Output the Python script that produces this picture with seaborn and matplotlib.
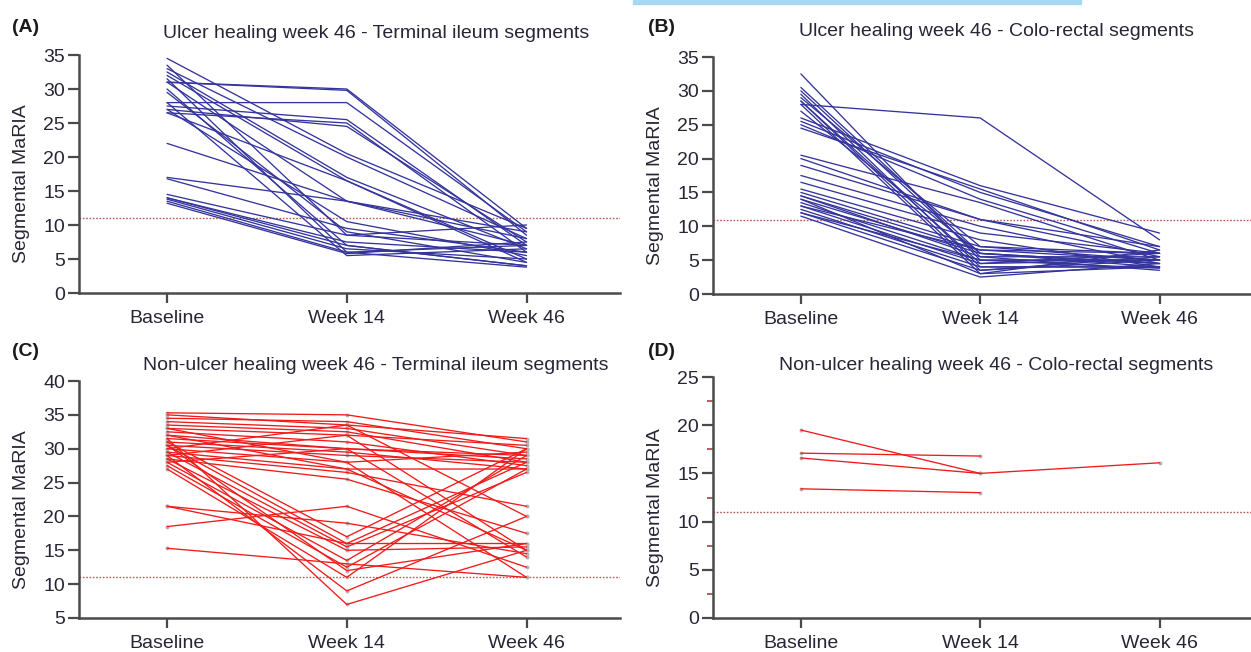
import numpy as np
import pandas as pd
import matplotlib
matplotlib.use("Agg")
import matplotlib.pyplot as plt
from matplotlib.patches import Rectangle
from matplotlib.ticker import MultipleLocator, FixedLocator
import seaborn as sns

sns.set_theme(style="white")
plt.rcParams["font.family"] = ["Liberation Sans", "DejaVu Sans"]

timepoints = ["Baseline", "Week 14", "Week 46"]
ref_line = 11

# (A) Ulcer healing week 46 - Terminal ileum segments
a_baseline = [31, 31, 28, 27.5, 26.5, 27, 34.5, 33, 32.5, 32, 30, 31.5, 29.5, 27,
              22, 17, 16.8, 14.5, 14, 14, 13.8, 13.5, 13.2, 33.5, 28, 26.5, 31]
a_week14 = [30, 29.8, 28, 25.5, 25, 24.5, 20.5, 20, 17, 16.5, 7, 6, 9, 10.5,
            13.5, 13.5, 9.5, 8.5, 7.5, 7, 6.5, 6, 5.8, 8.5, 5.5, 16.5, 13.5]
a_week46 = [9.5, 8.5, 9, 7, 6, 7.5, 9.5, 8, 6.5, 5, 4, 7, 4.5, 5.5,
            7, 8, 6, 7, 6, 4, 5, 3.8, 7.5, 10, 6.5, 4.5, 9]

# (B) Ulcer healing week 46 - Colo-rectal segments
b_baseline = [28, 32.5, 30.5, 30, 29.5, 29, 28.5, 28, 26, 25.5, 25, 24.5, 20.5, 20,
              19, 17.5, 16.5, 15.5, 15, 14.5, 14.5, 14, 13.5, 13, 12.5, 12, 11.5,
              13, 14, 12, 28.5, 27]
b_week14 = [26, 5, 6, 5.5, 4, 7, 4.5, 3, 16, 15, 14, 15.5, 13.5, 11,
            11, 10, 9, 8, 7, 6.5, 5.5, 6, 5, 4.5, 4, 3.5, 2.5,
            6.5, 3, 5, 3.5, 6]
b_week46 = [8, 5, 4.5, 5.5, 4, 6, 5, 4, 9, 7, 6, 6.5, 5, 5.5,
            7, 4.5, 6, 4, 5, 6, 3.5, 4.5, 5, 6, 4, 5.5, 4.5,
            5, 6.5, 3.8, 5, 4]

# (C) Non-ulcer healing week 46 - Terminal ileum segments
c_baseline = [35.3, 35, 34.5, 34, 33.5, 33, 32.5, 32, 31.5, 31, 30.5, 30, 29.5, 29,
              28.5, 30, 29, 28, 31, 30.5, 29.5, 28.5, 28, 27.5, 27, 29, 31.5,
              21.5, 18.5, 15.3, 21.5, 33, 32, 30.5]
c_week14 = [35, 33.5, 34, 33, 32.5, 32, 31, 30, 30, 29.5, 29, 28, 27, 26.5,
            25.5, 33.5, 32, 30, 17, 16, 15.5, 15, 13.5, 12.5, 11, 9, 7,
            16, 21.5, 13, 19, 28, 27, 12]
c_week46 = [31, 31.5, 30, 29, 28, 30.5, 27.5, 29, 28.5, 27, 28, 29.5, 27, 21.5,
            17.5, 20, 15, 14, 30, 28, 26.5, 15.5, 29, 27, 30, 20, 15,
            16, 12.5, 11, 14.5, 11, 15, 16]

# (D) Non-ulcer healing week 46 - Colo-rectal segments
d_baseline = [19.5, 17.1, 16.6, 13.4]
d_week14 = [15.0, 16.8, 15.0, 13.0]
d_week46 = [16.1, np.nan, np.nan, np.nan]


def to_long(b, w14, w46):
    df = pd.DataFrame({"id": range(len(b)), timepoints[0]: b,
                       timepoints[1]: w14, timepoints[2]: w46})
    df = df.melt(id_vars="id", var_name="time", value_name="MaRIA")
    df["pos"] = df["time"].map({t: i for i, t in enumerate(timepoints)})
    return df


W, H = 1251, 652
fig = plt.figure(figsize=(W / 100, H / 100), dpi=100)


def px_axes(x0, x1, ytop, ybot):
    return fig.add_axes([x0 / W, 1 - ybot / H, (x1 - x0) / W, (ybot - ytop) / H])


BLUE = "#34349c"
RED = "#f01a1a"
TXT = "#262636"
SPINE = "#4a4a4a"
FS = 14

panels = [
    dict(df=to_long(a_baseline, a_week14, a_week46), color=BLUE, box=(79, 620, 55, 293),
         ylim=(0, 35), title="Ulcer healing week 46 - Terminal ileum segments",
         tag="(A)", tcx=376, tcy=33, tagx=12, tagy=28, markers=False, minor=False),
    dict(df=to_long(b_baseline, b_week14, b_week46), color=BLUE, box=(713, 1251, 57, 294),
         ylim=(0, 35), title="Ulcer healing week 46 - Colo-rectal segments",
         tag="(B)", tcx=996, tcy=32, tagx=648, tagy=28, markers=False, minor=False),
    dict(df=to_long(c_baseline, c_week14, c_week46), color=RED, box=(79, 620, 381, 618),
         ylim=(5, 40), title="Non-ulcer healing week 46 - Terminal ileum segments",
         tag="(C)", tcx=376, tcy=365, tagx=12, tagy=352, markers=True, minor=False),
    dict(df=to_long(d_baseline, d_week14, d_week46), color=RED, box=(713, 1251, 377, 618),
         ylim=(0, 25), title="Non-ulcer healing week 46 - Colo-rectal segments",
         tag="(D)", tcx=996, tcy=365, tagx=648, tagy=352, markers=True, minor=True),
]

for p in panels:
    x0, x1, yt, yb = p["box"]
    ax = px_axes(x0, x1, yt, yb)
    df = p["df"]
    if p["markers"]:
        sns.scatterplot(data=df, x="pos", y="MaRIA", color="#b4b4b4", s=8,
                        marker="o", linewidth=0, ax=ax, legend=False, zorder=2)
    sns.lineplot(data=df, x="pos", y="MaRIA", units="id", estimator=None,
                 color=p["color"], lw=0.95, sort=False, ax=ax, legend=False, zorder=3)
    ax.axhline(ref_line, color="#b85a5a", lw=1.0, ls=(0, (1.2, 1.2)), zorder=1)

    ax.set_xlim(-0.49, 2.52 if x1 < 700 else 2.51)
    ax.set_ylim(*p["ylim"])
    ax.set_xticks(range(len(timepoints)))
    ax.set_xticklabels(timepoints)
    ax.yaxis.set_major_locator(MultipleLocator(5))
    if p["minor"]:
        ax.yaxis.set_minor_locator(FixedLocator(np.arange(2.5, 25, 5)))
        ax.tick_params(axis="y", which="minor", length=4, width=1.2,
                       color="#b04040", left=True, direction="out")
    ax.set_xlabel("")
    ax.set_ylabel("")
    for s in ["top", "right"]:
        ax.spines[s].set_visible(False)
    for s in ["left", "bottom"]:
        ax.spines[s].set_color(SPINE)
        ax.spines[s].set_linewidth(1.8)
    ax.tick_params(axis="both", which="major", direction="out", length=8, width=1.6,
                   color=SPINE, labelsize=FS, labelcolor=TXT, pad=2,
                   left=True, bottom=True)
    ax.tick_params(axis="x", length=7, pad=5)
    ax.set_facecolor("white")
    ax.grid(False)

    fig.text(p["tcx"] / W, 1 - p["tcy"] / H, p["title"], ha="center", va="center",
             fontsize=FS, color=TXT)
    fig.text(p["tagx"] / W, 1 - p["tagy"] / H, p["tag"], ha="left", va="center",
             fontsize=FS, fontweight="bold", color="#1a1a1a")
    ylab_x = 22 if x0 < 400 else 656
    ylab_y = (yt + yb) / 2 + 10
    fig.text(ylab_x / W, 1 - ylab_y / H, "Segmental MaRIA", rotation=90,
             ha="center", va="center", fontsize=FS, color=TXT)

# light blue bar at top of the page
fig.patches.append(Rectangle((633 / W, 1 - 4 / H), (1081 - 633) / W, 4 / H,
                             transform=fig.transFigure, color="#a6d8f5", zorder=5))

fig.savefig("out.png", dpi=100, facecolor="white")
